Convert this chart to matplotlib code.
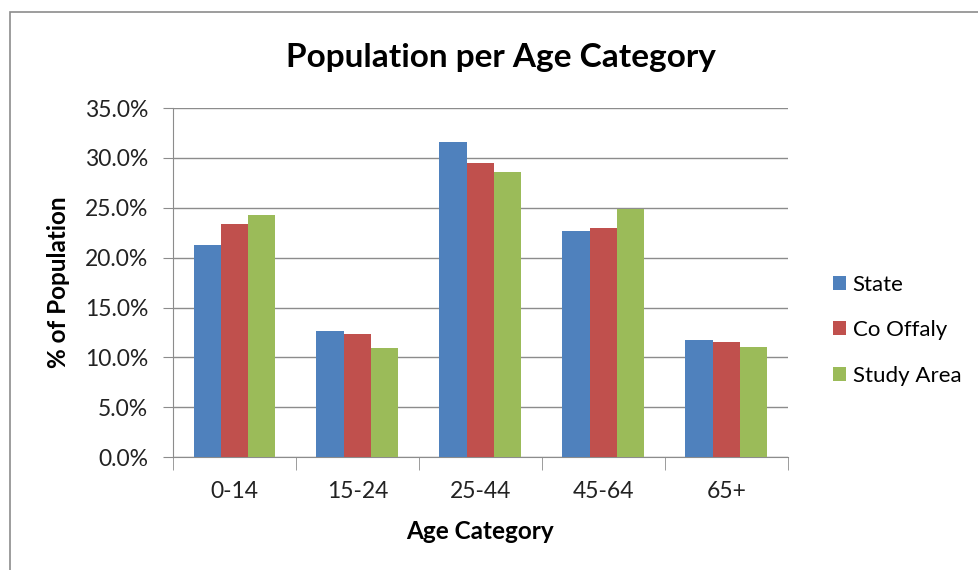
import numpy as np
import matplotlib.pyplot as plt
from matplotlib.patches import Rectangle
from matplotlib.ticker import PercentFormatter

categories = ['0-14', '15-24', '25-44', '45-64', '65+']
state = [21.3, 12.6, 31.6, 22.7, 11.7]
co_offaly = [23.4, 12.3, 29.5, 23.0, 11.5]
study_area = [24.3, 10.9, 28.6, 24.9, 11.0]

series = [('State', state, '#4f81bd'),
          ('Co Offaly', co_offaly, '#c0504d'),
          ('Study Area', study_area, '#9bbb59')]

plt.rcParams['font.family'] = ['Lato', 'DejaVu Sans']

fig = plt.figure(figsize=(9.79, 5.70), dpi=100)
ax = fig.add_axes([0.1767, 0.198, 0.628, 0.6125])

# chart area border (runs off the right and bottom edges like the original crop)
fig.patches.append(Rectangle((10 / 979, -0.05), 1.0, 1.05 - 12 / 570, transform=fig.transFigure,
                             fill=False, edgecolor='#8c8c8c', linewidth=1.2))

x = np.arange(len(categories))
w = 0.222
for i, (name, vals, col) in enumerate(series):
    ax.bar(x + (i - 1) * w, vals, width=w, color=col, label=name, zorder=3)

ax.set_xlim(-0.5, len(categories) - 0.5)
ax.set_ylim(0, 35)
ax.set_yticks(np.arange(0, 35.1, 5))
ax.yaxis.set_major_formatter(PercentFormatter(decimals=1))
ax.set_xticks(x)
ax.set_xticklabels(categories)
ax.set_xticks(np.arange(-0.5, len(categories), 1), minor=True)

ax.grid(axis='y', color='#8c8c8c', linewidth=1, zorder=0)
for s in ['top', 'right']:
    ax.spines[s].set_visible(False)
for s in ['left', 'bottom']:
    ax.spines[s].set_color('#8c8c8c')

ax.tick_params(axis='x', which='major', length=0, pad=17, labelsize=16.5, labelcolor='#222222')
ax.tick_params(axis='x', which='minor', length=9, color='#8c8c8c', direction='out')
ax.tick_params(axis='y', length=7, color='#8c8c8c', labelsize=16.5, labelcolor='#222222', pad=11)

fig.text(501 / 979, 1 - 58 / 570, 'Population per Age Category', fontsize=24,
         fontweight='bold', ha='center', va='center')
ax.set_xlabel('Age Category', fontsize=17.5, fontweight='bold')
ax.set_ylabel('% of Population', fontsize=17.5, fontweight='bold')
ax.xaxis.set_label_coords(0.5, -0.18)
ax.yaxis.set_label_coords(-0.167, 0.5)

ax.legend(loc='center left', bbox_to_anchor=(1.055, 0.364), frameon=False, borderpad=0,
          fontsize=16, handlelength=0.6, handleheight=0.6, handletextpad=0.3,
          labelspacing=1.15)

plt.savefig('out.png', dpi=100)
